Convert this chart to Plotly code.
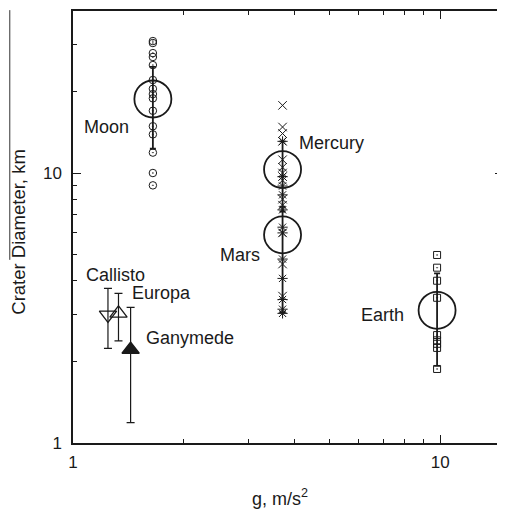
import numpy as np
import plotly.graph_objects as go

# ---------------- data ----------------
bodies = ["Moon", "Mercury", "Mars", "Earth"]
body_g = [1.65, 3.72, 3.72, 9.8]
body_mean_D = [18.8, 10.3, 5.9, 3.1]
body_low_D = [12.3, 7.2, 3.05, 1.93]
body_high_D = [24.7, 13.1, 7.5, 4.25]

moon_D = [30.8, 30.3, 27.8, 26.9, 25.1, 22.1, 20.5, 19.6, 18.9, 17.0, 14.9, 13.9, 11.9, 10.0, 9.0]
mercury_D = [17.8, 14.8, 14.0, 13.1, 11.2, 10.5, 10.0, 9.7, 9.4, 8.0, 7.6, 6.0, 4.6, 3.5]
mars_D = [13.1, 9.7, 8.95, 8.3, 7.3, 6.3, 6.0, 4.8, 4.07, 3.4, 3.13, 3.02]
earth_D = [4.97, 4.46, 3.99, 3.45, 2.51, 2.40, 2.33, 2.25, 1.88]

sat_names = ["Callisto", "Europa", "Ganymede"]
sat_g = [1.245, 1.33, 1.435]
sat_D = [2.98, 3.02, 2.22]
sat_low_D = [2.24, 2.39, 1.19]
sat_high_D = [3.74, 3.58, 3.18]

x_major = [1, 10]
x_major_text = ["1", "10"]
x_minor = [2, 3, 4, 5, 6, 7, 8, 9]
y_major = [1, 10]
y_major_text = ["1", "10"]
y_minor = [2, 3, 4, 5, 6, 7, 8, 9, 20, 30]

# label positions (g, D) and anchors
labels = [
    ("Moon", 1.44, 14.8, "right"),
    ("Mercury", 4.07, 12.9, "left"),
    ("Mars", 3.27, 4.97, "right"),
    ("Earth", 8.04, 2.98, "right"),
    ("Callisto", 1.071, 4.19, "left"),
    ("Europa", 1.427, 3.58, "left"),
    ("Ganymede", 1.56, 2.44, "left"),
]

FONT = "Liberation Sans, Arial, Helvetica, sans-serif"
INK = "#1a1a1a"

fig = go.Figure()

# individual craters
fig.add_trace(go.Scatter(
    x=[body_g[0]] * len(moon_D), y=moon_D, mode="markers",
    marker=dict(symbol="circle-open-dot", size=7.5, color=INK, line=dict(width=1)),
    showlegend=False))
fig.add_trace(go.Scatter(
    x=[body_g[1]] * len(mercury_D), y=mercury_D, mode="markers",
    marker=dict(symbol="x-thin-open", size=8.5, color=INK, line=dict(width=1)),
    showlegend=False))
fig.add_trace(go.Scatter(
    x=[body_g[2]] * len(mars_D), y=mars_D, mode="markers",
    marker=dict(symbol="asterisk-open", size=8.5, color=INK, line=dict(width=1)),
    showlegend=False))
fig.add_trace(go.Scatter(
    x=[body_g[3]] * len(earth_D), y=earth_D, mode="markers",
    marker=dict(symbol="square-open-dot", size=7, color=INK, line=dict(width=1)),
    showlegend=False))

# mean values with error bars
plus = [h - m for h, m in zip(body_high_D, body_mean_D)]
minus = [m - l for l, m in zip(body_low_D, body_mean_D)]
fig.add_trace(go.Scatter(
    x=body_g, y=body_mean_D, mode="markers",
    marker=dict(symbol="circle-open", size=37, color=INK, line=dict(width=1.8)),
    error_y=dict(type="data", array=plus, arrayminus=minus, symmetric=False,
                 color=INK, thickness=1.8, width=3),
    showlegend=False))

# icy satellites
sat_plus = [h - m for h, m in zip(sat_high_D, sat_D)]
sat_minus = [m - l for l, m in zip(sat_low_D, sat_D)]
sat_symbols = ["triangle-down-open", "triangle-up-open", "triangle-up"]
fig.add_trace(go.Scatter(
    x=sat_g, y=sat_D, mode="markers",
    marker=dict(symbol=sat_symbols, size=15, color=INK, line=dict(width=1.3, color=INK)),
    error_y=dict(type="data", array=sat_plus, arrayminus=sat_minus, symmetric=False,
                 color=INK, thickness=1.2, width=4),
    showlegend=False))

annotations = []
for text, gx, dy, anchor in labels:
    annotations.append(dict(
        x=np.log10(gx), y=np.log10(dy), xref="x", yref="y", text=text,
        showarrow=False, xanchor=anchor, yanchor="middle",
        font=dict(family=FONT, size=18, color=INK)))

annotations.append(dict(
    x=0.482, y=-0.127, xref="paper", yref="paper", text="g, m/s<sup>2</sup>",
    showarrow=False, xanchor="center", yanchor="middle",
    font=dict(family=FONT, size=18, color=INK)))
annotations.append(dict(
    x=-0.127, y=0.49, xref="paper", yref="paper", text="Crater Diameter, km",
    showarrow=False, xanchor="center", yanchor="middle", textangle=-90,
    font=dict(family=FONT, size=18.5, color=INK)))

axis_common = dict(
    type="log", showgrid=False, zeroline=False,
    showline=True, linecolor=INK, linewidth=1.5, mirror="ticks",
    ticks="inside", ticklen=8, tickwidth=1.2, tickcolor=INK,
    tickmode="array",
    tickfont=dict(family=FONT, size=17, color=INK),
)

# the page body adds an 8px offset; the figure is sized so the plot box
# lands where the reference has it
fig.update_layout(
    width=497, height=504,
    margin=dict(l=65, r=0, t=3, b=69),
    paper_bgcolor="white", plot_bgcolor="white",
    xaxis=dict(**axis_common, range=[0, 1.1707],
               tickvals=x_major, ticktext=x_major_text, ticklabelstandoff=3,
               minor=dict(tickmode="array", tickvals=x_minor, ticks="inside",
                          ticklen=4, tickwidth=1, tickcolor=INK)),
    yaxis=dict(**axis_common, range=[0, 1.6],
               tickvals=y_major, ticktext=y_major_text, ticklabelstandoff=6,
               minor=dict(tickmode="array", tickvals=y_minor, ticks="inside",
                          ticklen=4, tickwidth=1, tickcolor=INK)),
    annotations=annotations,
    shapes=[dict(type="line", xref="paper", yref="paper",
                 x0=-0.147, x1=-0.147, y0=1.002, y1=0.424,
                 line=dict(color="#333", width=1))],
)

fig.write_html("out.html")
